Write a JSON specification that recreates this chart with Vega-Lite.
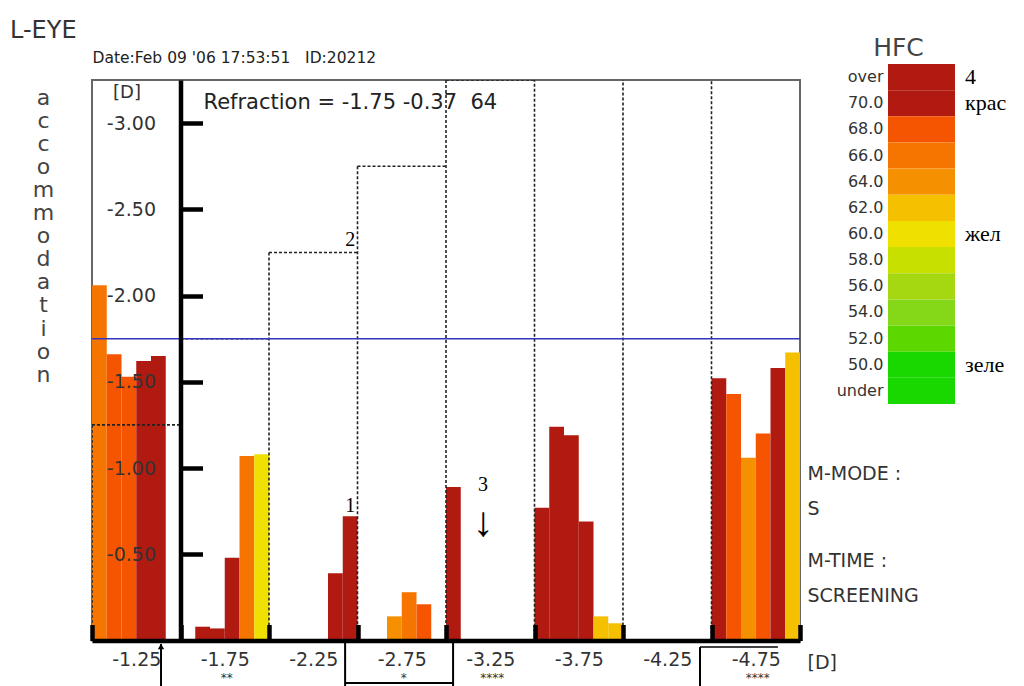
{
  "$schema": "https://vega.github.io/schema/vega-lite/v6.json",
  "width": 708,
  "height": 560.5,
  "autosize": {"type": "none"},
  "padding": {"left": 92, "top": 80, "right": 224, "bottom": 45.5},
  "background": "white",
  "config": {"view": {"stroke": "#666", "strokeWidth": 2}, "font": "DejaVu Sans"},
  "title": {"text": "L-EYE", "anchor": "start", "frame": "group", "dx": -82, "dy": 12, "offset": 4, "fontSize": 24, "font": "DejaVu Sans", "fontWeight": "normal", "color": "#333"},
  "datasets": {
    "bars": [
      {"step": "-1.25", "n": 0, "acc": -2.06, "hfc": "66.0"},
      {"step": "-1.25", "n": 1, "acc": -1.66, "hfc": "68.0"},
      {"step": "-1.25", "n": 2, "acc": -1.53, "hfc": "68.0"},
      {"step": "-1.25", "n": 3, "acc": -1.62, "hfc": "over"},
      {"step": "-1.25", "n": 4, "acc": -1.65, "hfc": "over"},
      {"step": "-1.75", "n": 1, "acc": -0.08, "hfc": "over"},
      {"step": "-1.75", "n": 2, "acc": -0.07, "hfc": "over"},
      {"step": "-1.75", "n": 3, "acc": -0.48, "hfc": "over"},
      {"step": "-1.75", "n": 4, "acc": -1.07, "hfc": "66.0"},
      {"step": "-1.75", "n": 5, "acc": -1.08, "hfc": "60.0"},
      {"step": "-2.25", "n": 4, "acc": -0.39, "hfc": "over"},
      {"step": "-2.25", "n": 5, "acc": -0.72, "hfc": "over"},
      {"step": "-2.75", "n": 2, "acc": -0.14, "hfc": "64.0"},
      {"step": "-2.75", "n": 3, "acc": -0.28, "hfc": "66.0"},
      {"step": "-2.75", "n": 4, "acc": -0.21, "hfc": "68.0"},
      {"step": "-3.25", "n": 0, "acc": -0.89, "hfc": "over"},
      {"step": "-3.75", "n": 0, "acc": -0.77, "hfc": "over"},
      {"step": "-3.75", "n": 1, "acc": -1.24, "hfc": "over"},
      {"step": "-3.75", "n": 2, "acc": -1.19, "hfc": "over"},
      {"step": "-3.75", "n": 3, "acc": -0.69, "hfc": "over"},
      {"step": "-3.75", "n": 4, "acc": -0.14, "hfc": "62.0"},
      {"step": "-3.75", "n": 5, "acc": -0.10, "hfc": "62.0"},
      {"step": "-4.75", "n": 0, "acc": -1.52, "hfc": "over"},
      {"step": "-4.75", "n": 1, "acc": -1.43, "hfc": "68.0"},
      {"step": "-4.75", "n": 2, "acc": -1.06, "hfc": "64.0"},
      {"step": "-4.75", "n": 3, "acc": -1.20, "hfc": "68.0"},
      {"step": "-4.75", "n": 4, "acc": -1.58, "hfc": "over"},
      {"step": "-4.75", "n": 5, "acc": -1.67, "hfc": "62.0"}
    ],
    "steps": [
      {"step": "-1.25", "level": -1.25, "stars": ""},
      {"step": "-1.75", "level": -1.75, "stars": "**"},
      {"step": "-2.25", "level": -2.25, "stars": ""},
      {"step": "-2.75", "level": -2.75, "stars": "*"},
      {"step": "-3.25", "level": -3.25, "stars": "****"},
      {"step": "-3.75", "level": -3.75, "stars": ""},
      {"step": "-4.25", "level": -4.25, "stars": ""},
      {"step": "-4.75", "level": -4.75, "stars": "****"}
    ],
    "notes": [
      {"step": "-2.25", "n": 5, "acc": -0.78, "note": "1"},
      {"step": "-2.25", "n": 5, "acc": -2.32, "note": "2"},
      {"step": "-3.25", "n": 2, "acc": -0.90, "note": "3"},
      {"step": "-3.25", "n": 2, "acc": -0.68, "note": "↓"}
    ],
    "hfcscale": [
      {"hfc": "over", "note": "4"},
      {"hfc": "70.0", "note": "крас"},
      {"hfc": "68.0", "note": ""},
      {"hfc": "66.0", "note": ""},
      {"hfc": "64.0", "note": ""},
      {"hfc": "62.0", "note": ""},
      {"hfc": "60.0", "note": "жел"},
      {"hfc": "58.0", "note": ""},
      {"hfc": "56.0", "note": ""},
      {"hfc": "54.0", "note": ""},
      {"hfc": "52.0", "note": ""},
      {"hfc": "50.0", "note": "зеле"},
      {"hfc": "under", "note": ""}
    ],
    "refraction": [{"sph": -1.75}]
  },
  "layer": [
    {
      "layer": [
        {
          "data": {"name": "bars"},
          "mark": {"type": "bar"},
          "encoding": {
            "x": {"field": "step", "type": "nominal",
              "scale": {"domain": ["-1.25", "-1.75", "-2.25", "-2.75", "-3.25", "-3.75", "-4.25", "-4.75"], "paddingInner": 0, "paddingOuter": 0},
              "axis": {"orient": "bottom", "zindex": 1, "labelAngle": 0, "labelFont": "DejaVu Sans", "labelFontSize": 19, "labelColor": "#333", "labelPadding": 26,
                "tickBand": "extent", "tickSize": -16, "tickWidth": 4.5, "tickColor": "#000", "domainColor": "#000", "domainWidth": 4.5, "grid": false,
                "title": "[D]", "titleX": 715, "titleY": 22, "titleAlign": "left", "titleBaseline": "middle", "titleFont": "DejaVu Sans", "titleFontSize": 19, "titleFontWeight": "normal", "titleColor": "#333"}},
            "xOffset": {"field": "n", "type": "nominal", "scale": {"domain": [0, 1, 2, 3, 4, 5], "paddingInner": 0, "paddingOuter": 0}},
            "y": {"field": "acc", "type": "quantitative",
              "scale": {"domain": [0, -3.25], "nice": false, "zero": false},
              "axis": {"orient": "left", "zindex": 1, "offset": -88.5, "values": [-3, -2.5, -2, -1.5, -1, -0.5], "labelExpr": "'-' + format(abs(datum.value), '.2f')",
                "labelFont": "DejaVu Sans", "labelFontSize": 19, "labelColor": "#333", "labelPadding": 47,
                "tickSize": -22, "tickWidth": 4.5, "tickColor": "#000", "domainColor": "#000", "domainWidth": 4.5, "grid": false,
                "title": "[D]", "titleAngle": 0, "titleX": -54, "titleY": 12, "titleAlign": "center", "titleBaseline": "middle", "titleFont": "DejaVu Sans", "titleFontSize": 18, "titleFontWeight": "normal", "titleColor": "#333"}},
            "color": {"field": "hfc", "type": "nominal",
              "scale": {"domain": ["over", "70.0", "68.0", "66.0", "64.0", "62.0", "60.0", "58.0", "56.0", "54.0", "52.0", "50.0", "under"],
                "range": ["#b01a10", "#b01a10", "#f55500", "#f57500", "#f59000", "#f5c000", "#f0e000", "#c8e000", "#a5d810", "#85d818", "#5cd800", "#18d800", "#18d800"]},
              "legend": null}
          }
        },
        {
          "data": {"name": "steps"},
          "mark": {"type": "rule", "color": "#222", "strokeWidth": 1.6, "strokeDash": [3, 2], "clip": true},
          "encoding": {
            "x": {"field": "step", "type": "nominal", "bandPosition": 0, "axis": null},
            "y": {"field": "level", "type": "quantitative", "axis": null},
            "y2": {"datum": 0}
          }
        },
        {
          "data": {"name": "steps"},
          "mark": {"type": "rule", "color": "#222", "strokeWidth": 1.6, "strokeDash": [3, 2], "clip": true},
          "encoding": {
            "x": {"field": "step", "type": "nominal", "bandPosition": 0, "axis": null},
            "x2": {"field": "step", "bandPosition": 1},
            "y": {"field": "level", "type": "quantitative", "axis": null}
          }
        },
        {
          "data": {"name": "steps"},
          "mark": {"type": "text", "font": "DejaVu Sans", "fontSize": 12, "color": "#333", "baseline": "middle", "dx": 2},
          "encoding": {
            "x": {"field": "step", "type": "nominal",
              "axis": {"orient": "top", "labels": false, "ticks": false, "domain": false, "grid": false,
                "title": "Date:Feb 09 '06 17:53:51 \u00a0 ID:20212", "titleX": 0, "titleY": -23, "titleAlign": "left", "titleBaseline": "middle", "titleFont": "DejaVu Sans", "titleFontSize": 15.5, "titleFontWeight": "normal", "titleColor": "#222"}},
            "y": {"datum": 0.215, "type": "quantitative", "axis": null},
            "text": {"field": "stars"}
          }
        },
        {
          "data": {"name": "refraction"},
          "mark": {"type": "rule", "color": "#3434c4", "strokeWidth": 1.6},
          "encoding": {
            "y": {"field": "sph", "type": "quantitative",
              "axis": {"orient": "left", "offset": 0, "labels": false, "ticks": false, "domain": false, "grid": false,
                "title": ["a", "c", "c", "o", "m", "m", "o", "d", "a", "t", "i", "o", "n"], "titleAngle": 0, "titleX": -49, "titleY": 24, "titleAlign": "center", "titleBaseline": "alphabetic", "titleFont": "DejaVu Sans", "titleFontSize": 22, "titleFontWeight": "normal", "titleColor": "#444", "titleLineHeight": 23.1}}
          }
        },
        {
          "data": {"name": "notes"},
          "transform": [{"filter": "datum.note !== '↓'"}],
          "mark": {"type": "text", "font": "Liberation Serif", "fontSize": 20, "color": "#000", "baseline": "middle"},
          "encoding": {
            "x": {"field": "step", "type": "nominal",
              "axis": {"orient": "top", "labels": false, "ticks": false, "domain": false, "grid": false,
                "title": "Refraction = -1.75 -0.37 \u00a064", "titleX": 111, "titleY": 22, "titleAlign": "left", "titleBaseline": "middle", "titleFont": "DejaVu Sans", "titleFontSize": 21, "titleFontWeight": "normal", "titleColor": "#222"}},
            "xOffset": {"field": "n", "type": "nominal"},
            "y": {"field": "acc", "type": "quantitative",
              "axis": {"orient": "right", "labels": false, "ticks": false, "domain": false, "grid": false,
                "title": ["M-MODE :", "S"], "titleAngle": 0, "titleX": 7, "titleY": 399.5, "titleAlign": "left", "titleBaseline": "alphabetic", "titleFont": "DejaVu Sans", "titleFontSize": 19, "titleFontWeight": "normal", "titleColor": "#333", "titleLineHeight": 35}},
            "text": {"field": "note"}
          }
        },
        {
          "data": {"name": "notes"},
          "transform": [{"filter": "datum.note === '↓'"}],
          "mark": {"type": "text", "font": "Liberation Serif", "fontSize": 42, "color": "#000", "baseline": "middle"},
          "encoding": {
            "x": {"field": "step", "type": "nominal", "axis": null},
            "xOffset": {"field": "n", "type": "nominal"},
            "y": {"field": "acc", "type": "quantitative",
              "axis": {"orient": "right", "labels": false, "ticks": false, "domain": false, "grid": false,
                "title": ["M-TIME :", "SCREENING"], "titleAngle": 0, "titleX": 7, "titleY": 486.5, "titleAlign": "left", "titleBaseline": "alphabetic", "titleFont": "DejaVu Sans", "titleFontSize": 19, "titleFontWeight": "normal", "titleColor": "#333", "titleLineHeight": 35}},
            "text": {"field": "note"}
          }
        },
        {
          "data": {"values": [{}]},
          "mark": {"type": "rule", "color": "#000", "strokeWidth": 2},
          "encoding": {
            "x": {"datum": "-1.25", "type": "nominal", "bandPosition": 0.78, "axis": null},
            "y": {"datum": 0.02, "type": "quantitative", "axis": null},
            "y2": {"datum": 0.27}
          }
        },
        {
          "data": {"values": [{}]},
          "mark": {"type": "point", "shape": "triangle-up", "filled": true, "color": "#000", "size": 40, "opacity": 1},
          "encoding": {
            "x": {"datum": "-1.25", "type": "nominal", "bandPosition": 0.78, "axis": null},
            "y": {"datum": 0.035, "type": "quantitative", "axis": null}
          }
        },
        {
          "data": {"values": [{}]},
          "mark": {"type": "rule", "color": "#000", "strokeWidth": 2},
          "encoding": {
            "x": {"datum": "-2.75", "type": "nominal", "bandPosition": -0.14, "axis": null},
            "y": {"datum": 0.0, "type": "quantitative", "axis": null},
            "y2": {"datum": 0.27}
          }
        },
        {
          "data": {"values": [{}]},
          "mark": {"type": "rule", "color": "#000", "strokeWidth": 2},
          "encoding": {
            "x": {"datum": "-2.75", "type": "nominal", "bandPosition": 1.08, "axis": null},
            "y": {"datum": 0.0, "type": "quantitative", "axis": null},
            "y2": {"datum": 0.27}
          }
        },
        {
          "data": {"values": [{}]},
          "mark": {"type": "rule", "color": "#000", "strokeWidth": 2},
          "encoding": {
            "x": {"datum": "-2.75", "type": "nominal", "bandPosition": -0.14, "axis": null},
            "x2": {"datum": "-2.75", "bandPosition": 1.08},
            "y": {"datum": 0.246, "type": "quantitative", "axis": null}
          }
        },
        {
          "data": {"values": [{}]},
          "mark": {"type": "rule", "color": "#000", "strokeWidth": 2},
          "encoding": {
            "x": {"datum": "-4.75", "type": "nominal", "bandPosition": -0.13, "axis": null},
            "y": {"datum": 0.038, "type": "quantitative", "axis": null},
            "y2": {"datum": 0.27}
          }
        },
        {
          "data": {"values": [{}]},
          "mark": {"type": "rule", "color": "#000", "strokeWidth": 1.5},
          "encoding": {
            "x": {"datum": "-4.75", "type": "nominal", "bandPosition": -0.13, "axis": null},
            "x2": {"datum": "-4.75", "bandPosition": 0.75},
            "y": {"datum": 0.038, "type": "quantitative", "axis": null}
          }
        }
      ],
      "resolve": {"axis": {"x": "independent", "y": "independent"}}
    },
    {
      "data": {"name": "hfcscale"},
      "layer": [
        {
          "mark": {"type": "rect"},
          "encoding": {
            "x": {"datum": "HFC", "type": "nominal",
              "scale": {"domain": ["HFC"], "range": [796, 863], "paddingInner": 0, "paddingOuter": 0},
              "axis": {"orient": "top", "labels": false, "ticks": false, "domain": false, "grid": false,
                "title": "HFC", "titleX": 806, "titleY": -33, "titleAlign": "center", "titleBaseline": "middle", "titleFont": "DejaVu Sans", "titleFontSize": 25, "titleFontWeight": "normal", "titleColor": "#444"}},
            "y": {"field": "hfc", "type": "nominal",
              "scale": {"domain": ["over", "70.0", "68.0", "66.0", "64.0", "62.0", "60.0", "58.0", "56.0", "54.0", "52.0", "50.0", "under"], "range": [-16, 324], "paddingInner": 0, "paddingOuter": 0},
              "axis": {"orient": "left", "offset": -796, "labels": true, "ticks": false, "domain": false, "grid": false, "labelPadding": 5,
                "labelFont": "DejaVu Sans", "labelFontSize": 16, "labelColor": "#333", "title": null}},
            "color": {"field": "hfc", "type": "nominal", "legend": null}
          }
        },
        {
          "transform": [{"filter": "datum.note !== ''"}],
          "mark": {"type": "text", "align": "left", "baseline": "middle", "dx": 10, "font": "Liberation Serif", "fontSize": 22, "color": "#000"},
          "encoding": {
            "x": {"datum": "HFC", "type": "nominal", "bandPosition": 1},
            "y": {"field": "hfc", "type": "nominal"},
            "text": {"field": "note"}
          }
        }
      ]
    }
  ],
  "resolve": {"scale": {"x": "independent", "y": "independent"}}
}
